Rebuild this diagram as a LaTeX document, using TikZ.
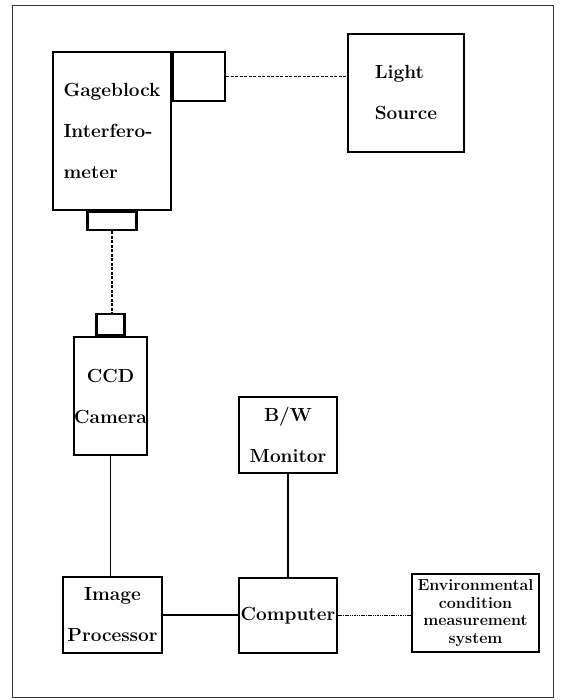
\documentclass[tikz,border=0pt]{standalone}
\usepackage{tikz}
\usetikzlibrary{positioning}

\begin{document}
\begin{tikzpicture}[
  x=1pt, y=-1pt,
  box/.style={
    rectangle, draw=black, line width=2.2pt, align=left,
    inner sep=0pt, font=\bfseries\fontsize{19}{41}\selectfont
  },
  port/.style={rectangle, draw=black, line width=2.2pt, inner sep=0pt},
  link/.style={line width=1.8pt},
  beam/.style={line width=1.4pt, dash pattern=on 3pt off 1.5pt},
  wire/.style={line width=1.6pt, dash pattern=on 1.5pt off 0.8pt}
]
  \useasboundingbox (0,0) rectangle (561,700);
  % Frame
  \draw[line width=0.9pt, black!80] (12,5) rectangle (553,697);

  % Nodes
  \node[box, minimum width=118, minimum height=158] (gage) at (112,131)
    {Gageblock\\Interfero-\\meter};
  \node[port, minimum width=52, minimum height=49, anchor=north west] (sideport) at (gage.north east) {};
  \node[port, minimum width=49, minimum height=18, anchor=north] (lowport) at (gage.south) {};
  \node[box, minimum width=116, minimum height=118] (light) at (406,93)
    {Light\\Source};
  \node[box, minimum width=73, minimum height=118, align=center] (camera) at (110.5,396)
    {CCD\\Camera};
  \node[port, minimum width=28, minimum height=21, anchor=south] (camport) at (camera.north) {};
  \node[box, minimum width=98, minimum height=76, align=center] (monitor) at (288,435)
    {B/W\\Monitor};
  \node[box, minimum width=99, minimum height=76, align=center] (imgproc) at (112.5,615)
    {Image\\Processor};
  \node[box, minimum width=98, minimum height=75, align=center] (computer) at (288,615.5)
    {Computer};
  \node[box, minimum width=127, minimum height=78, align=center,
        font=\bfseries\fontsize{16}{17.5}\selectfont] (env) at (475.5,613)
    {Environmental\\condition\\measurement\\system};

  % Connections
  \draw[beam] (sideport.east) -- (sideport.east -| light.west);
  \draw[beam] (lowport.south) -- (lowport.south |- camport.north);
  \draw[link] (camera.south) -- (camera.south |- imgproc.north);
  \draw[link] (imgproc.east) -- (imgproc.east -| computer.west);
  \draw[link] (monitor.south) -- (computer.north);
  \draw[wire] (computer.east) -- (computer.east -| env.west);
\end{tikzpicture}
\end{document}
